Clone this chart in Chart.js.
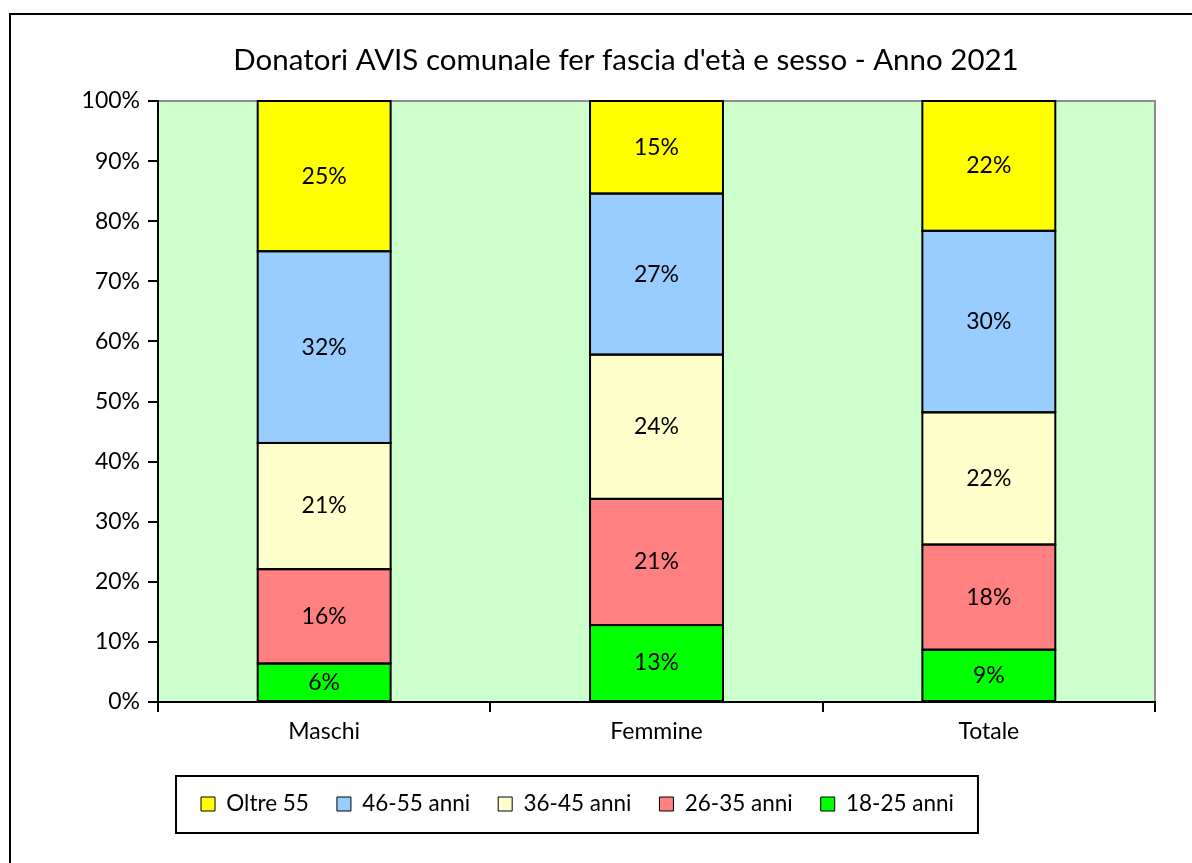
<!DOCTYPE html>
<html>
<head>
<meta charset="utf-8">
<script src="https://cdn.jsdelivr.net/npm/chart.js@4"></script>
<style>
  body { margin: 0; background: #fff; }
  canvas { display: block; }
</style>
</head>
<body>
<canvas id="chart" width="1192" height="863"></canvas>
<script>
const categories = ["Maschi", "Femmine", "Totale"];
const age18to25 = [6.4, 12.8, 8.7];
const age26to35 = [15.7, 21.0, 17.5];
const age36to45 = [21.0, 24.0, 22.0];
const age46to55 = [31.9, 26.8, 30.2];
const over55 = [25.0, 15.4, 21.6];
const yTicks = [0, 10, 20, 30, 40, 50, 60, 70, 80, 90, 100];
const chartTitle = "Donatori AVIS comunale fer fascia d'età e sesso - Anno 2021";

const FONT = "Lato, 'Open Sans', sans-serif";

// green plot background, grey frame on top and right, outer frame and title
const plotBackground = {
  id: "plotBackground",
  beforeDraw(chart) {
    const { ctx, chartArea: a } = chart;
    ctx.save();
    ctx.fillStyle = "#ccffcc";
    ctx.fillRect(a.left, a.top, a.right - a.left, a.bottom - a.top);
    ctx.strokeStyle = "#8c8c8c";
    ctx.lineWidth = 2;
    ctx.beginPath();
    ctx.moveTo(a.left, a.top);
    ctx.lineTo(a.right, a.top);
    ctx.lineTo(a.right, a.bottom);
    ctx.stroke();
    ctx.strokeStyle = "#000";
    ctx.strokeRect(10, 14, 1400, 1000);
    ctx.fillStyle = "#000";
    ctx.font = "29.5px " + FONT;
    ctx.textAlign = "center";
    ctx.textBaseline = "middle";
    ctx.fillText(chartTitle, 626, 60);
    ctx.restore();
  },
  afterDraw(chart) {
    // box round the legend
    const boxes = chart.legend.legendHitBoxes;
    if (!boxes || !boxes.length) return;
    const first = boxes[0], last = boxes[boxes.length - 1];
    const cy = first.top + first.height / 2;
    const { ctx } = chart;
    ctx.save();
    ctx.strokeStyle = "#000";
    ctx.lineWidth = 2;
    ctx.strokeRect(first.left - 25, cy - 28, last.left + last.width - first.left + 49, 57);
    ctx.restore();
  }
};

// black outline of each segment and its percentage label
const segmentLabels = {
  id: "segmentLabels",
  afterDatasetsDraw(chart) {
    const { ctx } = chart;
    ctx.save();
    ctx.strokeStyle = "#000";
    ctx.lineWidth = 2;
    chart.data.datasets.forEach((ds, i) => {
      chart.getDatasetMeta(i).data.forEach(bar => {
        ctx.strokeRect(bar.x - bar.width / 2, bar.y, bar.width, bar.base - bar.y);
      });
    });
    ctx.font = "23px " + FONT;
    ctx.fillStyle = "#000";
    ctx.textAlign = "center";
    ctx.textBaseline = "middle";
    chart.data.datasets.forEach((ds, i) => {
      chart.getDatasetMeta(i).data.forEach((bar, j) => {
        ctx.fillText(Math.round(ds.data[j]) + "%", bar.x, (bar.y + bar.base) / 2);
      });
    });
    ctx.restore();
  }
};

const series = [
  { label: "18-25 anni", data: age18to25, color: "#00ff00" },
  { label: "26-35 anni", data: age26to35, color: "#ff8080" },
  { label: "36-45 anni", data: age36to45, color: "#ffffcc" },
  { label: "46-55 anni", data: age46to55, color: "#99ccff" },
  { label: "Oltre 55", data: over55, color: "#ffff00" }
];

new Chart(document.getElementById("chart"), {
  type: "bar",
  data: {
    labels: categories,
    datasets: series.map(s => ({
      label: s.label,
      data: s.data,
      backgroundColor: s.color,
      borderColor: "#000",
      borderWidth: 0,
      barPercentage: 0.4,
      categoryPercentage: 1
    }))
  },
  options: {
    responsive: false,
    animation: false,
    layout: { padding: { left: 0, right: 37, top: 101, bottom: 37.75 } },
    scales: {
      x: {
        stacked: true,
        grid: { display: true, drawOnChartArea: false, color: "#000", lineWidth: 2, tickLength: 10, offset: true },
        border: { color: "#000", width: 2 },
        ticks: { color: "#000", font: { family: FONT, size: 23 }, padding: 6 },
        afterFit(scale) { scale.height = 62.75; }
      },
      y: {
        stacked: true,
        min: 0,
        max: 100,
        afterBuildTicks(scale) { scale.ticks = yTicks.map(v => ({ value: v })); },
        grid: { display: true, drawOnChartArea: false, color: "#000", lineWidth: 2, tickLength: 10 },
        border: { color: "#000", width: 2 },
        ticks: { color: "#000", font: { family: FONT, size: 23 }, padding: 8, callback: v => v + "%" },
        afterFit(scale) { scale.width = 158; }
      }
    },
    plugins: {
      title: { display: false },
      legend: {
        position: "bottom",
        reverse: true,
        labels: {
          color: "#000",
          font: { family: FONT, size: 22.5 },
          boxWidth: 14,
          boxHeight: 14,
          padding: 28,
          generateLabels(chart) {
            const items = Chart.defaults.plugins.legend.labels.generateLabels(chart);
            items.forEach(it => { it.lineWidth = 1; it.strokeStyle = "#000"; });
            return items;
          }
        }
      },
      tooltip: { enabled: false }
    }
  },
  plugins: [plotBackground, segmentLabels]
});
</script>
</body>
</html>
